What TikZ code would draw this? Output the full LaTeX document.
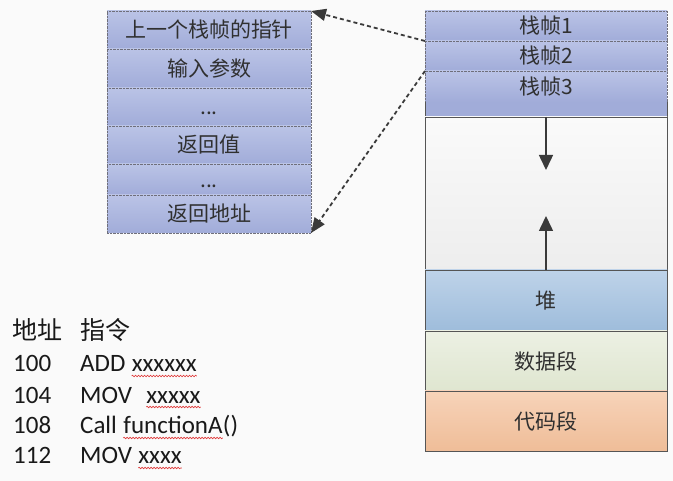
\documentclass[tikz,border=0pt]{standalone}
\usepackage{fontspec}
\setmainfont{Carlito}
\newfontfamily\cjk{Noto Sans CJK SC}
\usetikzlibrary{positioning,arrows.meta,decorations.pathmorphing}
\definecolor{paper}{HTML}{FAFAFA}
\definecolor{framehi}{HTML}{BAC3E6}
\definecolor{framelo}{HTML}{A1ACD9}
\definecolor{dotgray}{HTML}{6F6F7A}
\definecolor{linegray}{HTML}{555555}
\definecolor{inkgray}{HTML}{303030}
\definecolor{arrowgray}{HTML}{3A3A3A}
\definecolor{heaphi}{HTML}{BED3E9}
\definecolor{heaplo}{HTML}{9EBCDB}
\definecolor{datahi}{HTML}{ECF0E3}
\definecolor{datalo}{HTML}{DFE6D0}
\definecolor{codehi}{HTML}{F7D3B9}
\definecolor{codelo}{HTML}{EFBD98}
\definecolor{typored}{HTML}{E03C3C}
\begin{document}
\begin{tikzpicture}[x=1pt, y=-1pt,
    frame/.style={draw=dotgray, densely dotted, top color=framehi, bottom color=framelo,
      minimum width=204pt, inner sep=0pt, outer sep=0pt, text=inkgray,
      font=\cjk\fontsize{21}{21}\selectfont},
    slot/.style={frame, minimum width=242pt},
    seg/.style={draw=linegray, line width=0.8pt, minimum width=242pt, inner sep=0pt,
      outer sep=0pt, text=inkgray, font=\cjk\fontsize{21}{21}\selectfont},
    growth/.style={draw=arrowgray, line width=1.5pt, -{Triangle[length=15pt,width=14pt]}},
    ptr/.style={draw=arrowgray, line width=1.8pt, dash pattern=on 4pt off 3pt,
      -{Triangle[length=15pt,width=12pt]}},
    listing/.style={inner sep=0pt, anchor=base west, text=black!90, font=\fontsize{25}{25}\selectfont},
    typo/.style={draw=typored, line width=0.6pt,
      decorate, decoration={snake, segment length=3pt, amplitude=0.8pt}}]
  \useasboundingbox (0,0) rectangle (673,481);
  \fill[paper] (0,0) rectangle (673,481);
  %
  % one stack frame, left
  \node[frame, minimum height=38pt, anchor=north] (f1) at (209,11) {上一个栈帧的指针};
  \node[frame, minimum height=39pt, below=0pt of f1] (f2) {输入参数};
  \node[frame, minimum height=38pt, below=0pt of f2] (f3) {\vphantom{返}...};
  \node[frame, minimum height=38pt, below=0pt of f3] (f4) {返回值};
  \node[frame, minimum height=31pt, below=0pt of f4] (f5) {\vphantom{返}...};
  \node[frame, minimum height=38pt, below=0pt of f5] (f6) {返回地址};
  %
  % memory, right
  \node[slot, minimum height=30pt, anchor=north] (s1) at (546,11) {栈帧1};
  \node[slot, minimum height=30pt, below=0pt of s1] (s2) {栈帧2};
  \node[slot, minimum height=31pt, below=0pt of s2] (s3) {栈帧3};
  \node[fill=framelo, minimum width=242pt, minimum height=15pt, inner sep=0pt, outer sep=0pt,
    below=0pt of s3] (strip) {};
  \draw[linegray, line width=0.8pt] (strip.north west) -- (strip.south west);
  \draw[linegray, line width=0.8pt] (strip.north east) -- (strip.south east);
  \node[seg, top color=paper, bottom color=black!7, minimum height=153pt, below=0pt of strip] (free) {};
  \node[seg, top color=heaphi, bottom color=heaplo, minimum height=61pt, below=0pt of free] (heap) {堆};
  \node[seg, top color=datahi, bottom color=datalo, minimum height=60pt, below=0pt of heap] (data) {数据段};
  \node[seg, top color=codehi, bottom color=codelo, minimum height=60pt, below=0pt of data] (text) {代码段};
  %
  \coordinate (growdown) at (546,170);
  \coordinate (growup) at (546,216);
  \draw[growth] (free.north) -- (growdown); % stack
  \draw[growth] (heap.north) -- (growup);   % heap
  %
  \draw[ptr] (s2.north west) -- (f1.north east);
  \draw[ptr] (s3.north west) -- (f6.south east);
  %
  % code listing
  \node[listing, font=\cjk\fontsize{25}{25}\selectfont] (addr) at (12,340) {地址};
  \node[listing, font=\cjk\fontsize{25}{25}\selectfont] (inst) at (80,340) {指令};
  %
  \node[listing] (n1) at (13,372) {100};
  \node[listing] (op1) at (80,372) {ADD};
  \node[listing] (arg1) at ([xshift=6pt]op1.base east) {xxxxxx};
  %%
  \node[listing] (n2) at (13,403) {104};
  \node[listing] (op2) at (80,403) {MOV};
  \node[listing] (arg2) at ([xshift=14pt]op2.base east) {xxxxx};
  %%
  \node[listing] (n3) at (13,434) {108};
  \node[listing] (op3) at (80,434) {Call};
  \node[listing] (arg3) at ([xshift=6pt]op3.base east) {functionA};
  \node[listing] (par3) at (arg3.base east) {()};
  %%
  \node[listing] (n4) at (13,464) {112};
  \node[listing] (op4) at (80,464) {MOV};
  \node[listing] (arg4) at ([xshift=6pt]op4.base east) {xxxx};
  %
  \draw[typo] ([yshift=-4pt]arg1.base west) -- ([yshift=-4pt]arg1.base east);
  \draw[typo] ([yshift=-4pt]arg2.base west) -- ([yshift=-4pt]arg2.base east);
  \draw[typo] ([yshift=-4pt]arg3.base west) -- ([yshift=-4pt]arg3.base east);
  \draw[typo] ([yshift=-4pt]arg4.base west) -- ([yshift=-4pt]arg4.base east);
\end{tikzpicture}
\end{document}
